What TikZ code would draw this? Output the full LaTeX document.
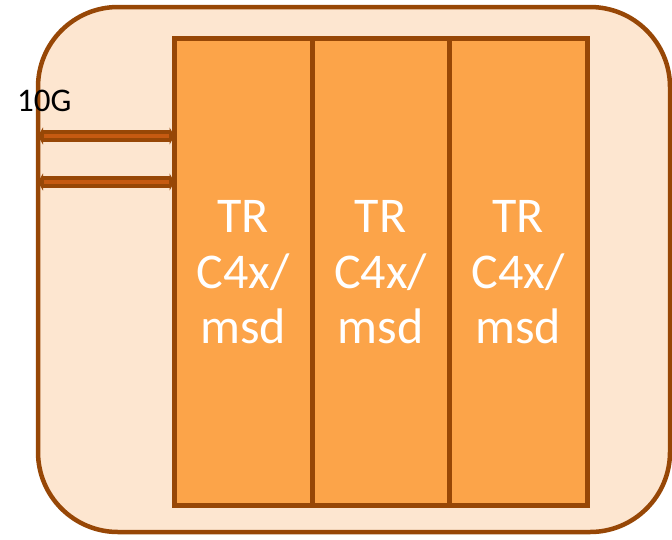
\documentclass[tikz,border=0pt]{standalone}
\usepackage{fontspec}
\setmainfont{Carlito}
\usetikzlibrary{arrows.meta,calc}
\definecolor{edge}{HTML}{974706}
\definecolor{shell}{HTML}{FDE6D0}
\definecolor{card}{HTML}{FCA449}
\definecolor{wire}{HTML}{C55A11}
\tikzset{
  chassis/.style={draw=edge, fill=shell, line width=4.5pt, rounded corners=80pt},
  cardbox/.style={draw=edge, fill=card, line width=5pt, inner sep=0pt, outer sep=0pt},
  cardtext/.style={text=white, font=\fontsize{50}{56}\selectfont, anchor=base, inner sep=0pt},
  linkouter/.style={draw=edge, line width=12pt,
    {Triangle[width=17pt,length=5pt]}-{Triangle[width=17pt,length=5pt]}},
  linkinner/.style={draw=wire, line width=4pt, shorten <=6pt, shorten >=6pt},
}
\begin{document}
\begin{tikzpicture}[x=1pt,y=-1pt]
  \useasboundingbox (0,0) rectangle (672,539);
  % enclosure
  \draw[chassis] (38,7) rectangle (670,532);
  % three line cards
  \foreach \i/\xa/\xb in {1/174.5/312, 2/312/449.5, 3/449.5/587} {
    \node[cardbox, minimum width=\xb-\xa, minimum height=467, anchor=north west]
      (card\i) at (\xa,38) {};
    \path let \p1 = (card\i.center) in
      node[cardtext] (tr\i)  at (\x1,232) {TR}
      node[cardtext] (cx\i)  at (\x1,288) {C4x/}
      node[cardtext] (msd\i) at (\x1,343) {msd};
  }
  % 10G uplinks
  \coordinate (l1a) at (38,136);
  \coordinate (l2a) at (38,182);
  \coordinate (l1b) at (card1.west |- l1a);
  \coordinate (l2b) at (card1.west |- l2a);
  \draw[linkouter] (l1a) -- (l1b);
  \draw[linkinner] (l1a) -- (l1b);
  \draw[linkouter] (l2a) -- (l2b);
  \draw[linkinner] (l2a) -- (l2b);
  \node[anchor=base west, inner sep=0pt, font=\fontsize{33}{40}\selectfont] (tenG) at (17,111.5) {10G};
\end{tikzpicture}
\end{document}
